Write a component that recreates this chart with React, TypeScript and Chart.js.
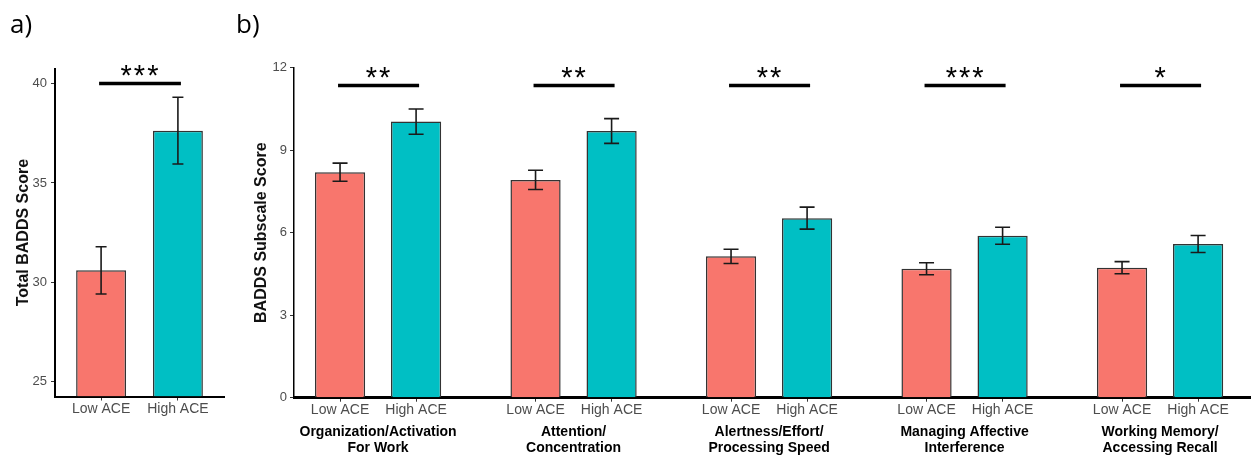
import React, { useEffect, useRef } from "react";
import { Chart, registerables } from "chart.js";

Chart.register(...registerables);

// ---------- data ----------
const aceLabels = ["Low ACE", "High ACE"];

const totalMeans = [30.6, 37.63];
const totalErrors = [1.19, 1.68];
const totalStars = ["***"];
const totalSigValue = 40.0;
const totalTicks = [25, 30, 35, 40];

const subscaleLabels = [
  ["Organization/Activation", "For Work"],
  ["Attention/", "Concentration"],
  ["Alertness/Effort/", "Processing Speed"],
  ["Managing Affective", "Interference"],
  ["Working Memory/", "Accessing Recall"],
];
const lowMeans = [8.2, 7.92, 5.14, 4.69, 4.73];
const lowErrors = [0.33, 0.35, 0.26, 0.22, 0.22];
const highMeans = [10.04, 9.7, 6.53, 5.89, 5.59];
const highErrors = [0.46, 0.45, 0.4, 0.31, 0.31];
const subscaleStars = ["**", "**", "**", "***", "*"];
const subscaleSigValue = 11.35;
const subscaleTicks = [0, 3, 6, 9, 12];

// ---------- styles ----------
const LOW = "#F8766D";
const HIGH = "#00BFC4";
const FONT = "'Liberation Sans', Arial, sans-serif";
const CAT_PCT = 0.778;
const BAR_PCT = 0.66;

const panelLabelPlugin = {
  id: "panelLabel",
  afterDraw(chart: any, _args: any, opts: any) {
    const ctx = chart.ctx;
    ctx.save();
    ctx.font = "26px 'Open Sans', sans-serif";
    ctx.fillStyle = "#000";
    ctx.textAlign = "left";
    ctx.textBaseline = "alphabetic";
    ctx.fillText(opts.text, opts.x, opts.y);
    ctx.restore();
  },
};

const errorBarPlugin = {
  id: "errorBars",
  afterDatasetsDraw(chart: any, _args: any, opts: any) {
    const ctx = chart.ctx;
    const y = chart.scales.y;
    chart.data.datasets.forEach((ds: any, di: number) => {
      const meta = chart.getDatasetMeta(di);
      const errs = opts.errors[di];
      meta.data.forEach((bar: any, i: number) => {
        const d = ds.data[i];
        const v = typeof d === "number" ? d : d.y;
        const top = y.getPixelForValue(v + errs[i]);
        const bot = y.getPixelForValue(v - errs[i]);
        ctx.save();
        ctx.strokeStyle = "#1a1a1a";
        ctx.lineWidth = 1.6;
        ctx.beginPath();
        ctx.moveTo(bar.x, top);
        ctx.lineTo(bar.x, bot);
        ctx.moveTo(bar.x - opts.cap, top);
        ctx.lineTo(bar.x + opts.cap, top);
        ctx.moveTo(bar.x - opts.cap, bot);
        ctx.lineTo(bar.x + opts.cap, bot);
        ctx.stroke();
        ctx.restore();
      });
    });
  },
};

const sigPlugin = {
  id: "sig",
  afterDatasetsDraw(chart: any, _args: any, opts: any) {
    const ctx = chart.ctx;
    const y = chart.scales.y;
    const py = y.getPixelForValue(opts.value);
    opts.stars.forEach((s: string, i: number) => {
      let x1: number, x2: number;
      if (chart.data.datasets.length > 1) {
        x1 = chart.getDatasetMeta(0).data[i].x;
        x2 = chart.getDatasetMeta(1).data[i].x;
      } else {
        x1 = chart.getDatasetMeta(0).data[0].x;
        x2 = chart.getDatasetMeta(0).data[1].x;
      }
      ctx.save();
      ctx.strokeStyle = "#000";
      ctx.lineWidth = 3.5;
      ctx.beginPath();
      ctx.moveTo(x1 - 2, py);
      ctx.lineTo(x2 + 3, py);
      ctx.stroke();
      ctx.font = `29px ${FONT}`;
      ctx.fillStyle = "#000";
      ctx.textAlign = "center";
      ctx.textBaseline = "alphabetic";
      try {
        (ctx as any).letterSpacing = "2px";
      } catch (e) {}
      ctx.fillText(s, (x1 + x2) / 2 + 1, py + 1);
      ctx.restore();
    });
  },
};

function TotalChart() {
  const ref = useRef<HTMLCanvasElement | null>(null);
  useEffect(() => {
    const tMin = 24.25;
    const tMax = 40.75;
    const chart = new Chart(ref.current as HTMLCanvasElement, {
      type: "bar",
      data: {
        datasets: [
          {
            data: totalMeans.map((v, i) => ({ x: i + 1, y: v })),
            backgroundColor: [LOW, HIGH],
            borderColor: "#333",
            borderWidth: 1.5,
            categoryPercentage: 1,
            barPercentage: 0.65,
            base: tMin,
          } as any,
        ],
      },
      options: {
        responsive: false,
        animation: false,
        layout: { padding: { top: 68.7, right: 6, left: 0, bottom: 0 } },
        plugins: {
          legend: { display: false },
          tooltip: { enabled: false },
          errorBars: { errors: [totalErrors], cap: 5.5 },
          sig: { stars: totalStars, value: totalSigValue },
          panelLabel: { text: "a)", x: 10, y: 33 },
        } as any,
        scales: {
          x: {
            type: "linear",
            offset: false,
            min: 0.4,
            max: 2.6,
            afterBuildTicks: (s: any) => {
              s.ticks = aceLabels.map((_, i) => ({ value: i + 1 }));
            },
            afterFit: (s: any) => {
              s.height = 63.5;
            },
            grid: { offset: false, drawOnChartArea: false, drawTicks: true, tickLength: 4, color: "#333" },
            border: { display: true, color: "#000", width: 2 },
            ticks: {
              autoSkip: false,
              maxRotation: 0,
              padding: 0,
              color: "#4d4d4d",
              font: { family: FONT, size: 14 },
              callback: (_v: any, i: number) => aceLabels[i],
            },
          },
          y: {
            type: "linear",
            min: tMin,
            max: tMax,
            afterBuildTicks: (s: any) => {
              s.ticks = totalTicks.map((v) => ({ value: v }));
            },
            afterFit: (s: any) => {
              s.width = 55;
            },
            grid: { drawOnChartArea: false, drawTicks: true, tickLength: 4, color: "#333" },
            border: { display: true, color: "#000", width: 2 },
            ticks: { color: "#4d4d4d", font: { family: FONT, size: 13 }, padding: 4 },
            title: {
              display: true,
              text: "Total BADDS Score",
              color: "#111",
              font: { family: FONT, size: 16, weight: "bold" },
              padding: { top: 14, bottom: 0 },
            },
          },
        } as any,
      },
      plugins: [errorBarPlugin, sigPlugin, panelLabelPlugin],
    });
    return () => chart.destroy();
  }, []);
  return (
    <canvas
      ref={ref}
      width={230}
      height={460}
      style={{ position: "absolute", left: 0, top: 0, width: 230, height: 460 }}
    />
  );
}

function SubscaleChart() {
  const ref = useRef<HTMLCanvasElement | null>(null);
  useEffect(() => {
    const xMin = 0.57;
    const xMax = 5.46;
    const off = CAT_PCT / 4;
    const mk = (vals: number[], color: string, label: string) => ({
      label,
      data: vals.map((v, i) => ({ x: i + 1, y: v })),
      backgroundColor: color,
      borderColor: "#333",
      borderWidth: 1.5,
      categoryPercentage: CAT_PCT,
      barPercentage: BAR_PCT,
    });
    const chart = new Chart(ref.current as HTMLCanvasElement, {
      type: "bar",
      data: {
        datasets: [mk(lowMeans, LOW, aceLabels[0]), mk(highMeans, HIGH, aceLabels[1])] as any,
      },
      options: {
        responsive: false,
        animation: false,
        layout: { padding: { top: 67.7, right: 6, left: 0, bottom: 0 } },
        plugins: {
          legend: { display: false },
          tooltip: { enabled: false },
          errorBars: { errors: [lowErrors, highErrors], cap: 7.5 },
          sig: { stars: subscaleStars, value: subscaleSigValue },
          panelLabel: { text: "b)", x: 6, y: 33 },
        } as any,
        scales: {
          x: {
            type: "linear",
            offset: false,
            min: xMin,
            max: xMax,
            weight: 1,
            afterBuildTicks: (s: any) => {
              s.ticks = subscaleLabels.map((_, i) => ({ value: i + 1 }));
            },
            afterFit: (s: any) => {
              s.height = 40.3;
            },
            grid: { display: false, drawTicks: false, offset: false },
            border: { display: false },
            ticks: {
              autoSkip: false,
              maxRotation: 0,
              padding: 4,
              color: "#000",
              font: { family: FONT, size: 14, weight: "bold", lineHeight: 16 / 14 },
              callback: (_v: any, i: number) => subscaleLabels[i],
            },
          },
          xsub: {
            type: "linear",
            position: "bottom",
            offset: false,
            min: xMin,
            max: xMax,
            weight: 0,
            afterBuildTicks: (s: any) => {
              s.ticks = subscaleLabels.flatMap((_, i) => [
                { value: i + 1 - off },
                { value: i + 1 + off },
              ]);
            },
            afterFit: (s: any) => {
              s.height = 22;
            },
            grid: { offset: false, drawOnChartArea: false, drawTicks: true, tickLength: 4, color: "#333" },
            border: { display: true, color: "#000", width: 3 },
            ticks: {
              autoSkip: false,
              maxRotation: 0,
              padding: 0,
              color: "#4d4d4d",
              font: { family: FONT, size: 14 },
              callback: (_v: any, i: number) => aceLabels[i % 2],
            },
          },
          y: {
            type: "linear",
            min: 0,
            max: 12,
            afterBuildTicks: (s: any) => {
              s.ticks = subscaleTicks.map((v) => ({ value: v }));
            },
            afterFit: (s: any) => {
              s.width = 64;
            },
            grid: { drawOnChartArea: false, drawTicks: true, tickLength: 4, color: "#333" },
            border: { display: true, color: "#000", width: 1.5 },
            ticks: { color: "#4d4d4d", font: { family: FONT, size: 13 }, padding: 3 },
            title: {
              display: true,
              text: "BADDS Subscale Score",
              color: "#111",
              font: { family: FONT, size: 16, weight: "bold" },
              padding: { top: 22, bottom: 0 },
            },
          },
        } as any,
      },
      plugins: [errorBarPlugin, sigPlugin, panelLabelPlugin],
    });
    return () => chart.destroy();
  }, []);
  return (
    <canvas
      ref={ref}
      width={1026}
      height={460}
      style={{ position: "absolute", left: 230, top: 0, width: 1026, height: 460 }}
    />
  );
}

export default function App() {
  return (
    <div
      style={{
        position: "absolute",
        left: 0,
        top: 0,
        width: 1256,
        height: 460,
        background: "#fff",
        overflow: "hidden",
      }}
    >
      <TotalChart />
      <SubscaleChart />
    </div>
  );
}
